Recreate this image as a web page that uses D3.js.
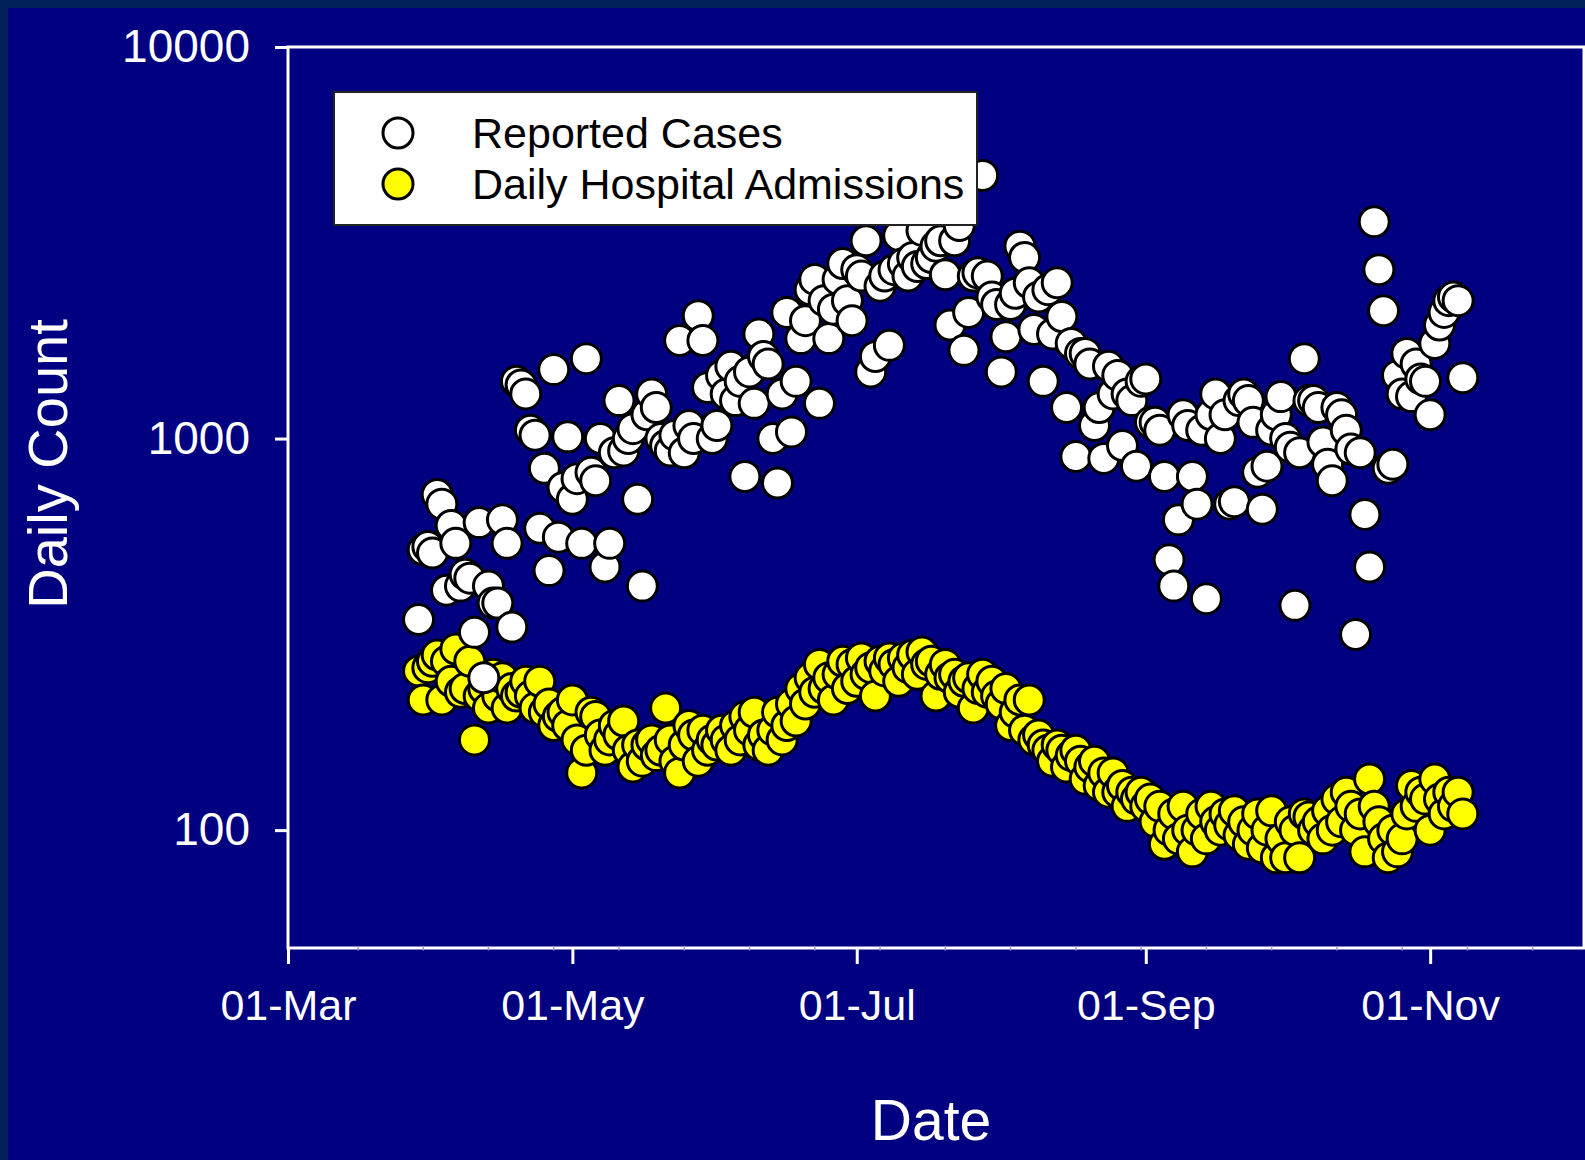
<!DOCTYPE html>
<html><head><meta charset="utf-8">
<script src="https://cdn.jsdelivr.net/npm/d3@7"></script>
<style>html,body{margin:0;padding:0;background:#00215a;overflow:hidden}</style>
</head><body><svg id="chart" width="1585" height="1160"></svg>
<script>
// ---- data ----
const firstDate = "2020-03-29";
const cases = [
 345,520,530,510,720,680,410,600,540,420,
 450,440,320,610,245,420,380,380,620,540,
 330,1400,1370,1300,1050,1020,590,840,460,1500,
 560,750,1010,700,790,540,1600,820,780,1000,
 470,540,920,1250,930,1000,1060,700,420,1150,
 1300,1200,1000,960,930,1020,1780,920,1080,1000,
 2060,1780,1350,1000,1080,1450,1300,1530,1250,1400,
 800,1480,1230,1850,1620,1550,1000,770,1300,2100,
 1040,1400,1800,2000,2400,2550,1230,2250,1800,2140,
 2550,2800,2250,2000,2700,2600,3200,1480,1620,2450,
 2600,1730,2700,3300,2800,2600,2900,2750,3400,2800,
 2900,3100,3200,2620,1950,3200,3500,1680,2100,2600,
 2650,4700,2600,2300,2200,1480,1820,2200,2350,3100,
 2900,2500,1900,2300,1400,2400,1850,2500,2050,1200,
 1750,900,1650,1650,1550,1080,1200,890,1530,1300,
 1450,960,1300,1250,850,1400,1420,1100,1100,1050,
 800,490,420,620,1150,1080,800,680,1050,390,
 1150,1300,1000,1150,680,690,1250,1300,1250,1100,
 820,660,850,1050,1150,1280,1000,950,375,920,
 1600,1250,1250,1200,980,860,780,1200,1150,1050,
 940,316,920,640,470,3580,2700,2120,840,860,
 1450,1300,1650,1280,1550,1420,1400,1150,1750,1950,
 2100,2250,2300,2250,1430
];
const admissions = [
 255,215,260,270,280,215,270,240,290,225,
 230,270,170,220,230,205,250,220,245,205,
 230,220,225,240,220,205,240,200,210,185,
 195,200,185,215,170,140,160,200,195,175,
 160,170,185,175,190,160,145,165,150,165,
 170,155,160,205,170,150,140,165,185,175,
 150,180,160,170,165,180,170,160,185,170,
 195,180,200,165,175,160,180,200,170,185,
 210,190,230,210,245,225,265,230,245,215,
 250,270,230,265,240,275,250,260,220,270,
 255,275,265,240,275,260,280,250,285,265,
 270,220,250,265,245,250,225,240,245,205,
 230,250,225,240,220,210,230,185,200,215,
 180,215,170,175,165,160,150,165,160,145,
 155,160,150,135,145,150,130,140,125,140,
 125,130,115,125,120,125,115,120,105,115,
 92,100,110,95,115,100,88,100,110,95,
 115,105,100,110,103,112,97,105,92,100,
 110,90,100,112,85,95,85,105,100,85,
 110,108,100,105,95,112,100,120,105,125,
 115,100,110,88,135,115,105,95,85,100,
 88,95,110,130,115,125,120,100,135,120,
 110,125,115,125,110
];
const xTickDates = ["2020-03-01","2020-05-01","2020-07-01","2020-09-01","2020-11-01"];
const xDomain = ["2020-03-01","2020-12-04"];
const minorTickStart = "2020-03-16";
const yTickValues = [100,1000,10000];
const yDomain = [50,10000];
const legendLabels = ["Reported Cases","Daily Hospital Admissions"];
const seriesColors = ["#ffffff","#ffff00"];

// ---- drawing ----
const parse = d3.utcParse("%Y-%m-%d");
const start = parse(firstDate);
const svg = d3.select("#chart");
const FONT = "'Liberation Sans', Arial, Helvetica, sans-serif";

svg.append("rect").attr("width",1585).attr("height",1160).attr("fill","#00215a");
svg.append("rect").attr("x",8).attr("y",8).attr("width",1577).attr("height",1152).attr("fill","#000080");

const x = d3.scaleUtc().domain(xDomain.map(parse)).range([288,1584]);
const y = d3.scaleLog().domain(yDomain).range([948,47]);

// frame
svg.append("rect").attr("x",288).attr("y",47).attr("width",1296).attr("height",901)
  .attr("fill","none").attr("stroke","#fff").attr("stroke-width",3);

// minor x ticks
const minor = d3.utcDay.range(parse(minorTickStart), parse(xDomain[1]), 14);
svg.append("g").selectAll("line").data(minor).join("line")
  .attr("x1",d=>x(d)).attr("x2",d=>x(d)).attr("y1",946).attr("y2",950.5)
  .attr("stroke","#9a9ad0").attr("stroke-width",1.5);

// x axis
const xAxis = d3.axisBottom(x).tickValues(xTickDates.map(parse))
  .tickFormat(d3.utcFormat("%d-%b")).tickSize(16).tickPadding(25).tickSizeOuter(0);
const gx = svg.append("g").attr("transform","translate(0,948)").call(xAxis);
gx.select(".domain").remove();
gx.selectAll("line").attr("stroke","#fff").attr("stroke-width",3);
gx.selectAll("text").attr("fill","#fff").style("font-family",FONT).style("font-size","43px");

// y axis
const yAxis = d3.axisLeft(y).tickValues(yTickValues).tickFormat(d3.format("d"))
  .tickSize(13).tickPadding(25).tickSizeOuter(0);
const gy = svg.append("g").attr("transform","translate(288,0)").call(yAxis);
gy.select(".domain").remove();
gy.selectAll("line").attr("stroke","#fff").attr("stroke-width",3);
gy.selectAll("text").attr("fill","#fff").style("font-family",FONT).style("font-size","46px");

// axis titles
svg.append("text").attr("x",931).attr("y",1140).attr("text-anchor","middle")
  .attr("fill","#fff").style("font-family",FONT).style("font-size","57px").text("Date");
svg.append("text").attr("transform","translate(67,464) rotate(-90)").attr("text-anchor","middle")
  .attr("fill","#fff").style("font-family",FONT).style("font-size","56px").text("Daily Count");

// points
const mk = arr => arr.map((v,i)=>({date:d3.utcDay.offset(start,i), v}));
const plot = svg.append("g");
[[admissions,seriesColors[1]],[cases,seriesColors[0]]].forEach(([arr,col])=>{
  plot.append("g").selectAll("circle").data(mk(arr)).join("circle")
    .attr("cx",d=>x(d.date)).attr("cy",d=>y(d.v)).attr("r",15)
    .attr("fill",col).attr("stroke","#000").attr("stroke-width",3);
});

// legend
const lg = svg.append("g");
lg.append("rect").attr("x",334).attr("y",92).attr("width",643).attr("height",133)
  .attr("fill","#fff").attr("stroke","#222").attr("stroke-width",2);
legendLabels.forEach((t,i)=>{
  lg.append("circle").attr("cx",398).attr("cy",133+i*51).attr("r",15)
    .attr("fill",seriesColors[i]).attr("stroke","#000").attr("stroke-width",3);
  lg.append("text").attr("x",472).attr("y",148+i*51).attr("fill","#000")
    .style("font-family",FONT).style("font-size","43px").text(t);
});
</script></body></html>
